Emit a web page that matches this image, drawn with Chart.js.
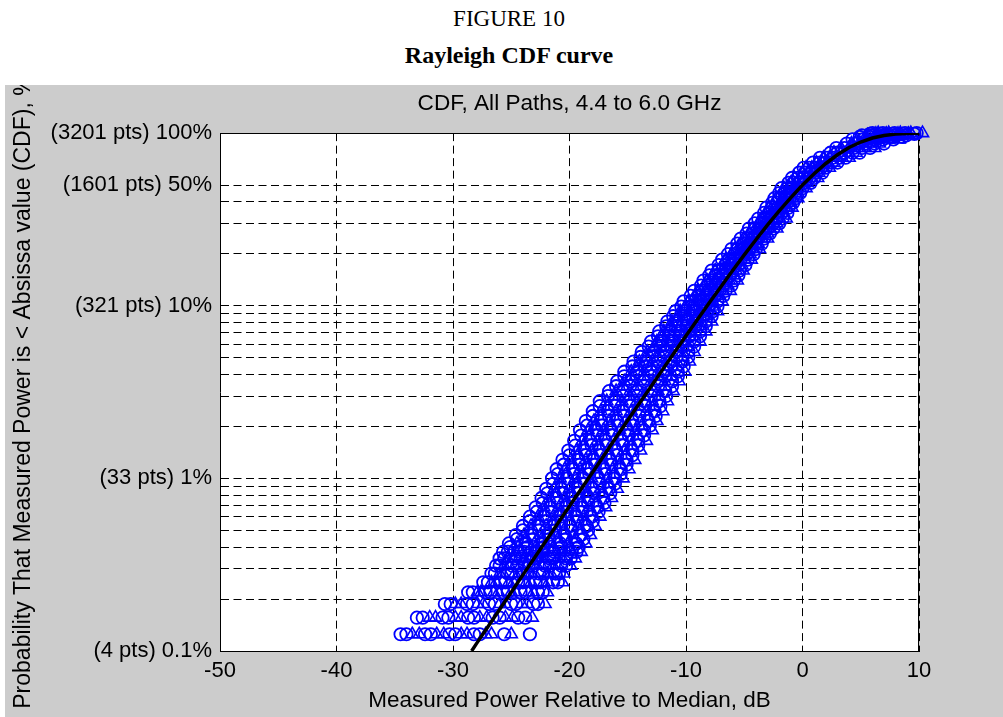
<!DOCTYPE html>
<html>
<head>
<meta charset="utf-8">
<title>Rayleigh CDF curve</title>
<script src="https://cdn.jsdelivr.net/npm/chart.js@4.4.1/dist/chart.umd.min.js"></script>
<style>
  html, body { margin: 0; padding: 0; background: #fff; }
  body { width: 1003px; height: 717px; position: relative; overflow: hidden; }
  .fig { position: absolute; left: 0; width: 1018px; text-align: center; color: #000;
         font-family: "Liberation Serif", "Times New Roman", serif; font-size: 23px; line-height: 23px; }
  #figNo { top: 7px; }
  #figTitle { top: 44px; font-weight: bold; font-size: 24px; }
  #wrap { position: absolute; left: 5px; top: 85px; width: 998px; height: 632px; background: #cccccc; }
</style>
</head>
<body>
<div class="fig" id="figNo">FIGURE 10</div>
<div class="fig" id="figTitle">Rayleigh CDF curve</div>
<div id="wrap"><canvas id="chart" width="998" height="632"></canvas></div>
<script>
const plotTitle = 'CDF, All Paths, 4.4 to 6.0 GHz';
const xTitle = 'Measured Power Relative to Median, dB';
const yTitle = 'Probability That Measured Power is < Absissa value (CDF), %';

const xTicks = [-50, -40, -30, -20, -10, 0, 10];
const yGrid = [0.1, 0.2, 0.3, 0.4, 0.5, 0.6, 0.7, 0.8, 0.9,
  1, 2, 3, 4, 5, 6, 7, 8, 9, 10, 20, 30, 40, 50, 100];
const yTickValues = [0.1, 1, 10, 50, 100];
const yTickLabels = ['(4 pts) 0.1%', '(33 pts) 1%', '(321 pts) 10%', '(1601 pts) 50%', '(3201 pts) 100%'];

const pLevels = [0.125, 0.156, 0.187, 0.219, 0.25, 0.281, 0.312, 0.344, 0.375, 0.42,
  0.47, 0.53, 0.6, 0.68, 0.77, 0.87, 1.0, 1.13, 1.28, 1.45,
  1.65, 1.9, 2.15, 2.45, 2.8, 3.2, 3.65, 4.15, 4.75, 5.4,
  6.2, 7.1, 8.1, 9.3, 10.6, 12.2, 14, 16, 18.5, 21.3,
  24.5, 28, 32, 37, 42, 48, 55, 63, 72, 82,
  92, 97, 100];
const pLevelsMid = [0.125, 0.156, 0.187, 0.219, 0.25, 0.281, 0.312, 0.344, 0.375, 0.40,
  0.445, 0.50, 0.565, 0.64, 0.72, 0.82, 0.93, 1.06, 1.2, 1.36,
  1.55, 1.77, 2.02, 2.3, 2.62, 3.0, 3.42, 3.9, 4.45, 5.05,
  5.8, 6.65, 7.6, 8.7, 9.9, 11.4, 13.1, 15, 17.2, 19.9,
  22.9, 26.2, 30, 34.5, 39.5, 45, 51.5, 59, 67.5, 77,
  87, 95, 99];

// measured power (dB re median) per path, read at pLevels
const circle1 = [-34.5, -33.1, -30.7, -28.7, -27.4, -26.7, -26.3, -26.0, -25.7, -25.2,
  -24.6, -24.0, -23.4, -22.9, -22.4, -22.0, -21.5, -21.1, -20.6, -20.1,
  -19.6, -19.1, -18.6, -18.0, -17.4, -16.6, -15.9, -15.3, -14.5, -13.8,
  -13.0, -12.3, -11.6, -10.9, -10.2, -9.3, -8.5, -7.8, -6.9, -6.1,
  -5.3, -4.6, -3.8, -3.1, -2.4, -1.8, -0.9, 0.1, 1.5, 2.9,
  4.3, 5.1, 6.0];
const circle2 = [-32.4, -30.9, -28.8, -27.2, -25.9, -25.3, -24.9, -24.6, -24.2, -23.7,
  -23.2, -22.6, -22.1, -21.6, -21.1, -20.7, -20.2, -19.7, -19.2, -18.7,
  -18.2, -17.7, -17.3, -16.7, -16.1, -15.4, -14.7, -14.2, -13.4, -12.8,
  -12.1, -11.4, -10.8, -10.1, -9.5, -8.6, -7.9, -7.2, -6.3, -5.6,
  -4.8, -4.1, -3.3, -2.6, -2.0, -1.3, -0.4, 0.6, 2.1, 3.6,
  5.2, 6.0, 6.9];
const circle3 = [-30.3, -28.7, -26.9, -25.7, -24.4, -24.0, -23.5, -23.1, -22.8, -22.3,
  -21.8, -21.3, -20.8, -20.3, -19.8, -19.3, -18.8, -18.4, -17.9, -17.4,
  -16.9, -16.4, -15.9, -15.4, -14.9, -14.2, -13.6, -13.0, -12.4, -11.8,
  -11.2, -10.5, -9.9, -9.3, -8.7, -7.9, -7.2, -6.6, -5.8, -5.0,
  -4.3, -3.5, -2.7, -2.1, -1.5, -0.9, 0.1, 1.1, 2.6, 4.4,
  6.1, 7.0, 7.9];
const circle4 = [-28.2, -26.6, -25.0, -24.2, -22.9, -22.6, -22.1, -21.7, -21.3, -20.8,
  -20.4, -19.9, -19.4, -18.9, -18.4, -18.0, -17.5, -17.0, -16.5, -16.0,
  -15.5, -15.0, -14.6, -14.0, -13.6, -13.0, -12.4, -11.9, -11.3, -10.8,
  -10.2, -9.7, -9.1, -8.5, -8.0, -7.3, -6.6, -6.0, -5.3, -4.5,
  -3.8, -3.0, -2.2, -1.6, -1.1, -0.4, 0.6, 1.6, 3.2, 5.1,
  6.9, 7.9, 8.8];
const circle5 = [-23.4, -24.4, -23.1, -22.7, -21.4, -21.2, -20.7, -20.3, -19.8, -19.4,
  -19.0, -18.5, -18.1, -17.6, -17.1, -16.6, -16.1, -15.6, -15.1, -14.6,
  -14.1, -13.6, -13.2, -12.7, -12.3, -11.8, -11.2, -10.7, -10.3, -9.8,
  -9.3, -8.8, -8.3, -7.7, -7.3, -6.6, -5.9, -5.4, -4.7, -4.0,
  -3.3, -2.5, -1.7, -1.2, -0.6, 0.0, 1.0, 2.0, 3.7, 5.8,
  7.8, 8.9, 9.8];
const tri1 = [-33.5, -32.0, -29.8, -27.9, -26.7, -26.0, -25.6, -25.3, -25.0, -24.5,
  -23.9, -23.3, -22.7, -22.2, -21.7, -21.3, -20.8, -20.4, -19.9, -19.4,
  -18.9, -18.4, -17.9, -17.3, -16.8, -16.0, -15.3, -14.7, -14.0, -13.3,
  -12.5, -11.9, -11.2, -10.5, -9.8, -9.0, -8.2, -7.5, -6.6, -5.8,
  -5.0, -4.3, -3.5, -2.9, -2.2, -1.6, -0.7, 0.3, 1.8, 3.3,
  4.7, 5.6, 6.5];
const tri2 = [-31.4, -29.8, -27.9, -26.5, -25.2, -24.7, -24.2, -23.9, -23.5, -23.0,
  -22.5, -22.0, -21.4, -20.9, -20.4, -20.0, -19.5, -19.1, -18.6, -18.1,
  -17.6, -17.1, -16.6, -16.0, -15.5, -14.8, -14.2, -13.6, -12.9, -12.3,
  -11.6, -11.0, -10.3, -9.7, -9.1, -8.3, -7.5, -6.9, -6.1, -5.3,
  -4.5, -3.8, -3.0, -2.4, -1.7, -1.1, -0.2, 0.8, 2.3, 4.0,
  5.6, 6.5, 7.4];
const tri3 = [-29.3, -27.7, -26.0, -25.0, -23.7, -23.3, -22.8, -22.4, -22.0, -21.6,
  -21.1, -20.6, -20.1, -19.6, -19.1, -18.6, -18.1, -17.7, -17.2, -16.7,
  -16.2, -15.7, -15.2, -14.7, -14.2, -13.6, -13.0, -12.4, -11.9, -11.3,
  -10.7, -10.1, -9.5, -8.9, -8.4, -7.6, -6.9, -6.3, -5.5, -4.8,
  -4.0, -3.3, -2.5, -1.9, -1.3, -0.6, 0.3, 1.3, 2.9, 4.7,
  6.5, 7.5, 8.4];
const tri4 = [-27.2, -25.5, -24.1, -23.5, -22.2, -21.9, -21.4, -21.0, -20.5, -20.1,
  -19.7, -19.2, -18.8, -18.3, -17.8, -17.3, -16.8, -16.3, -15.8, -15.3,
  -14.8, -14.3, -13.9, -13.4, -12.9, -12.4, -11.8, -11.3, -10.8, -10.3,
  -9.8, -9.2, -8.7, -8.1, -7.7, -6.9, -6.3, -5.7, -5.0, -4.3,
  -3.5, -2.8, -2.0, -1.4, -0.9, -0.2, 0.8, 1.8, 3.4, 5.4,
  7.4, 8.4, 9.3];
const tri5 = [-25.0, -23.2, -22.1, -21.9, -20.6, -20.5, -19.9, -19.5, -19.0, -18.6,
  -18.2, -17.8, -17.4, -16.9, -16.4, -15.9, -15.4, -14.9, -14.4, -13.9,
  -13.4, -12.9, -12.5, -12.0, -11.6, -11.1, -10.6, -10.1, -9.7, -9.3,
  -8.8, -8.3, -7.8, -7.3, -6.9, -6.2, -5.6, -5.1, -4.4, -3.7,
  -3.0, -2.2, -1.4, -0.9, -0.4, 0.3, 1.3, 2.3, 4.0, 6.2,
  8.3, 9.4, 10.3];

// more paths, read at pLevelsMid
const circle6 = [-34.0, -32.6, -30.2, -28.3, -27.0, -26.4, -26.0, -25.6, -25.3, -25.1,
  -24.5, -24.0, -23.4, -22.8, -22.3, -21.9, -21.4, -21.0, -20.5, -20.0,
  -19.5, -19.0, -18.5, -18.0, -17.4, -16.7, -16.0, -15.3, -14.6, -13.9,
  -13.2, -12.4, -11.7, -11.1, -10.4, -9.6, -8.7, -8.0, -7.2, -6.4,
  -5.6, -4.8, -4.1, -3.3, -2.6, -2.0, -1.2, -0.3, 0.9, 2.4,
  3.8, 4.9, 5.8];
const circle7 = [-31.9, -30.4, -28.3, -26.8, -25.5, -25.0, -24.5, -24.2, -23.9, -23.6,
  -23.1, -22.6, -22.0, -21.5, -21.0, -20.5, -20.1, -19.6, -19.1, -18.6,
  -18.1, -17.6, -17.2, -16.6, -16.1, -15.4, -14.8, -14.2, -13.5, -12.9,
  -12.2, -11.5, -10.9, -10.2, -9.6, -8.9, -8.1, -7.4, -6.6, -5.8,
  -5.1, -4.3, -3.5, -2.8, -2.2, -1.5, -0.8, 0.2, 1.5, 3.0,
  4.6, 5.8, 6.7];
const circle8 = [-29.8, -28.2, -26.4, -25.3, -24.0, -23.6, -23.1, -22.8, -22.4, -22.2,
  -21.7, -21.2, -20.7, -20.2, -19.7, -19.2, -18.7, -18.3, -17.8, -17.3,
  -16.8, -16.3, -15.8, -15.3, -14.8, -14.2, -13.6, -13.0, -12.4, -11.9,
  -11.3, -10.6, -10.0, -9.4, -8.8, -8.2, -7.4, -6.8, -6.1, -5.3,
  -4.5, -3.8, -3.0, -2.3, -1.7, -1.1, -0.3, 0.7, 2.0, 3.6,
  5.4, 6.8, 7.7];
const circle9 = [-27.7, -26.0, -24.6, -23.8, -22.5, -22.3, -21.7, -21.4, -20.9, -20.7,
  -20.3, -19.8, -19.3, -18.9, -18.4, -17.9, -17.4, -16.9, -16.4, -15.9,
  -15.4, -14.9, -14.5, -14.0, -13.5, -13.0, -12.4, -11.8, -11.3, -10.8,
  -10.3, -9.7, -9.2, -8.6, -8.1, -7.5, -6.8, -6.2, -5.5, -4.8,
  -4.0, -3.3, -2.5, -1.8, -1.3, -0.6, 0.2, 1.2, 2.5, 4.3,
  6.2, 7.7, 8.6];
const circle10 = [-25.6, -23.8, -22.7, -22.3, -21.0, -20.9, -20.3, -19.9, -19.4, -19.2,
  -18.8, -18.4, -18.0, -17.5, -17.0, -16.5, -16.1, -15.6, -15.1, -14.6,
  -14.1, -13.6, -13.1, -12.6, -12.2, -11.7, -11.2, -10.7, -10.2, -9.8,
  -9.3, -8.8, -8.3, -7.8, -7.3, -6.8, -6.1, -5.5, -4.9, -4.2,
  -3.5, -2.8, -2.0, -1.3, -0.8, -0.2, 0.7, 1.7, 3.0, 4.9,
  7.0, 8.6, 9.6];
const tri6 = [-32.9, -31.5, -29.3, -27.6, -26.3, -25.7, -25.2, -24.9, -24.6, -24.4,
  -23.8, -23.3, -22.7, -22.2, -21.7, -21.2, -20.7, -20.3, -19.8, -19.3,
  -18.8, -18.3, -17.8, -17.3, -16.7, -16.1, -15.4, -14.7, -14.1, -13.4,
  -12.7, -12.0, -11.3, -10.6, -10.0, -9.2, -8.4, -7.7, -6.9, -6.1,
  -5.3, -4.6, -3.8, -3.1, -2.4, -1.8, -1.0, 0.0, 1.2, 2.7,
  4.2, 5.4, 6.3];
const tri7 = [-30.8, -29.3, -27.4, -26.1, -24.8, -24.3, -23.8, -23.5, -23.1, -22.9,
  -22.4, -21.9, -21.4, -20.8, -20.3, -19.9, -19.4, -18.9, -18.5, -18.0,
  -17.5, -17.0, -16.5, -16.0, -15.4, -14.8, -14.2, -13.6, -13.0, -12.4,
  -11.7, -11.1, -10.5, -9.8, -9.2, -8.5, -7.7, -7.1, -6.4, -5.6,
  -4.8, -4.1, -3.3, -2.6, -1.9, -1.3, -0.5, 0.5, 1.7, 3.3,
  5.0, 6.3, 7.2];
const tri8 = [-28.8, -27.1, -25.5, -24.6, -23.3, -23.0, -22.4, -22.1, -21.6, -21.4,
  -21.0, -20.5, -20.0, -19.5, -19.0, -18.5, -18.1, -17.6, -17.1, -16.6,
  -16.1, -15.6, -15.1, -14.6, -14.1, -13.6, -13.0, -12.4, -11.9, -11.3,
  -10.8, -10.2, -9.6, -9.0, -8.5, -7.8, -7.1, -6.5, -5.8, -5.0,
  -4.3, -3.5, -2.8, -2.1, -1.5, -0.9, -0.1, 0.9, 2.2, 4.0,
  5.8, 7.2, 8.2];
const tri9 = [-26.7, -24.9, -23.6, -23.1, -21.8, -21.6, -21.0, -20.6, -20.2, -20.0,
  -19.5, -19.1, -18.7, -18.2, -17.7, -17.2, -16.7, -16.2, -15.7, -15.2,
  -14.7, -14.2, -13.8, -13.3, -12.8, -12.3, -11.8, -11.3, -10.8, -10.3,
  -9.8, -9.3, -8.7, -8.2, -7.7, -7.1, -6.4, -5.8, -5.2, -4.5,
  -3.8, -3.0, -2.2, -1.6, -1.0, -0.4, 0.4, 1.4, 2.7, 4.6,
  6.6, 8.1, 9.1];

// black reference curve (Rayleigh, normalised to median)
const rayX = [-28.4, -28, -27, -26, -25, -24, -23, -22, -21, -20,
  -19, -18, -17, -16, -15, -14, -13, -12, -11, -10,
  -9, -8, -7, -6, -5, -4, -3, -2, -1, 0,
  1, 2, 3, 4, 5, 6, 7, 8, 9, 10];
const rayP = [0.1, 0.11, 0.138, 0.174, 0.219, 0.276, 0.347, 0.436, 0.549, 0.691,
  0.869, 1.09, 1.37, 1.73, 2.17, 2.72, 3.41, 4.28, 5.36, 6.70,
  8.36, 10.4, 12.9, 16.0, 19.7, 24.1, 29.4, 35.4, 42.3, 50.0,
  58.2, 66.7, 74.9, 82.5, 88.8, 93.7, 96.9, 98.7, 99.6, 99.9];

const FONT = '"Liberation Sans", Arial, Helvetica, sans-serif';
Chart.defaults.font.family = FONT;
Chart.defaults.font.size = 22;
Chart.defaults.color = '#000';

const blue = '#0000ff';

const datasets = [{
  type: 'line',
  data: rayX.map((x, i) => ({ x: x, y: rayP[i] })),
  borderColor: '#000',
  borderWidth: 3.5,
  pointRadius: 0,
  showLine: true,
  fill: false,
  order: 0,
}];

// [values, levels, marker]
const runs = [
  [circle1, pLevels, 'circle'], [circle6, pLevelsMid, 'circle'],
  [tri1, pLevels, 'triangle'], [tri6, pLevelsMid, 'triangle'],
  [circle2, pLevels, 'circle'], [circle7, pLevelsMid, 'circle'],
  [tri2, pLevels, 'triangle'], [tri7, pLevelsMid, 'triangle'],
  [circle3, pLevels, 'circle'], [circle8, pLevelsMid, 'circle'],
  [tri3, pLevels, 'triangle'], [tri8, pLevelsMid, 'triangle'],
  [circle4, pLevels, 'circle'], [circle9, pLevelsMid, 'circle'],
  [tri4, pLevels, 'triangle'], [tri9, pLevelsMid, 'triangle'],
  [circle5, pLevels, 'circle'], [circle10, pLevelsMid, 'circle'],
  [tri5, pLevels, 'triangle'],
];
runs.forEach(([xs, levels, style]) => {
  datasets.push({
    data: xs.map((x, i) => ({ x: x, y: levels[i] })),
    pointStyle: style,
    pointRadius: style === 'circle' ? 6.2 : 7,
    pointBorderWidth: style === 'circle' ? 1.8 : 1.6,
    borderColor: blue,
    backgroundColor: 'rgba(0,0,0,0)',
    showLine: false,
    clip: false,
    order: 1,
  });
});

const findLabel = (v) => {
  const i = yTickValues.findIndex((t) => Math.abs(t - v) < 1e-9);
  return i < 0 ? '' : yTickLabels[i];
};

// white plot box, top/right frame lines and the long rotated y title
const framePlugin = {
  id: 'frame',
  beforeDraw(chart) {
    const { ctx, chartArea: a } = chart;
    ctx.save();
    ctx.fillStyle = '#fff';
    ctx.fillRect(a.left, a.top, a.right - a.left, a.bottom - a.top);
    ctx.restore();
  },
  beforeDatasetsDraw(chart) {
    const { ctx, chartArea: a } = chart;
    ctx.save();
    ctx.strokeStyle = '#000';
    ctx.lineWidth = 1;
    ctx.beginPath();
    ctx.moveTo(a.left, Math.round(a.top) + 0.5);
    ctx.lineTo(a.right, Math.round(a.top) + 0.5);
    ctx.moveTo(Math.round(a.right) - 0.5, a.top);
    ctx.lineTo(Math.round(a.right) - 0.5, a.bottom);
    ctx.stroke();
    ctx.restore();
  },
  afterDraw(chart) {
    const { ctx, chartArea: a } = chart;
    ctx.save();
    ctx.font = '23px ' + FONT;
    ctx.fillStyle = '#000';
    ctx.textAlign = 'center';
    ctx.textBaseline = 'middle';
    ctx.translate(19, (a.top + a.bottom) / 2);
    ctx.rotate(-Math.PI / 2);
    ctx.fillText(yTitle, 0, 0);
    ctx.restore();
  },
};

const gridDash = [8, 4.5];

new Chart(document.getElementById('chart'), {
  type: 'scatter',
  data: { datasets: datasets },
  plugins: [framePlugin],
  options: {
    responsive: false,
    devicePixelRatio: 1,
    animation: false,
    events: [],
    layout: { padding: { top: 0, left: 0, right: 84, bottom: 0 } },
    plugins: {
      legend: { display: false },
      tooltip: { enabled: false },
      title: {
        display: true,
        text: plotTitle,
        fullSize: false,
        color: '#000',
        font: { size: 22.6, weight: 'normal' },
        padding: { top: 5, bottom: 16 },
      },
    },
    scales: {
      x: {
        type: 'linear',
        min: -50,
        max: 10,
        afterBuildTicks: (s) => { s.ticks = xTicks.map((v) => ({ value: v })); },
        afterFit: (s) => { s.height = 66; },
        ticks: { padding: 7, autoSkip: false, maxRotation: 0, callback: (v) => String(v) },
        grid: { color: '#000', lineWidth: 1, drawTicks: false },
        border: { display: true, color: '#000', width: 1, dash: gridDash },
        title: { display: true, text: xTitle, font: { size: 22.5 }, padding: { top: 0, bottom: 3 } },
      },
      y: {
        type: 'logarithmic',
        min: 0.1,
        max: 100,
        afterBuildTicks: (s) => { s.ticks = yGrid.map((v) => ({ value: v })); },
        afterFit: (s) => { s.width = 215; },
        ticks: { padding: 8, autoSkip: false, callback: (v) => findLabel(v) },
        grid: { color: '#000', lineWidth: 1, drawTicks: false },
        border: { display: true, color: '#000', width: 1, dash: gridDash },
      },
    },
  },
});
</script>
</body>
</html>
